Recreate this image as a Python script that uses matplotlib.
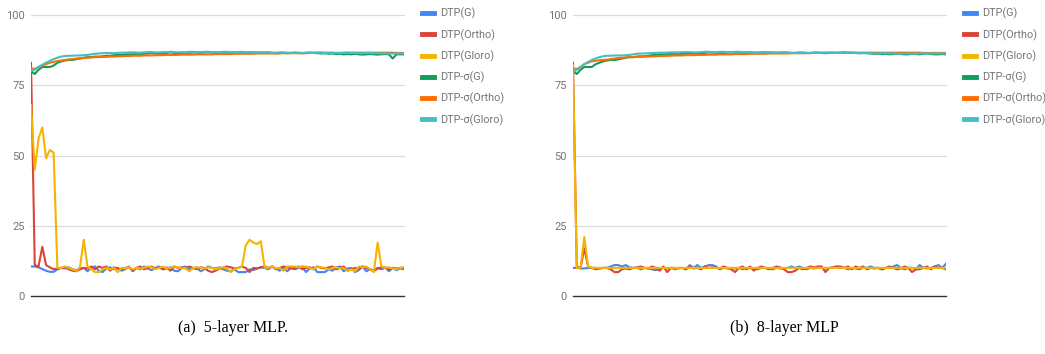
import matplotlib.pyplot as plt

# --- datos (100 epocas) ---
labels = ["DTP(G)", "DTP(Ortho)", "DTP(Gloro)", "DTP-σ(G)", "DTP-σ(Ortho)", "DTP-σ(Gloro)"]
colores = ["#4285F4", "#DB4437", "#F4B400", "#0F9D58", "#FF6D00", "#46BDC6"]

# (a) 5-layer MLP
g5 = [10.5, 10.5, 10.2, 9.6, 9.0, 8.6, 8.6, 9.5, 10.0, 9.8,
      10.2, 9.5, 9.2, 9.8, 10.0, 8.8, 10.2, 10.5, 9.0, 8.5,
      9.8, 10.2, 9.5, 10.0, 9.0, 9.5, 10.5, 8.8, 10.0, 9.5,
      10.5, 9.8, 9.2, 10.0, 10.5, 9.5, 9.8, 10.2, 9.0, 8.8,
      10.0, 10.5, 9.5, 9.8, 10.2, 8.8, 9.5, 10.5, 10.0, 9.8,
      10.2, 9.5, 9.0, 8.8, 9.5, 8.5, 8.5, 8.5, 9.5, 9.2,
      9.8, 10.2, 10.0, 9.5, 10.5, 9.8, 9.0, 10.2, 8.8, 10.0,
      9.5, 10.0, 10.5, 8.5, 9.8, 10.2, 8.5, 8.5, 8.5, 9.5,
      9.0, 10.2, 10.5, 8.8, 9.8, 10.0, 8.5, 9.2, 10.5, 8.8,
      9.5, 8.8, 10.0, 9.5, 10.2, 8.8, 10.0, 9.2, 9.8, 9.5]
ortho5 = [83.0, 11.0, 10.5, 17.5, 11.0, 10.2, 9.5, 9.8, 10.0, 10.2,
          9.5, 9.0, 8.8, 9.5, 10.0, 9.8, 10.5, 9.5, 10.5, 10.0,
          10.5, 9.0, 10.2, 9.8, 9.5, 10.0, 10.2, 9.0, 10.0, 10.5,
          9.5, 10.0, 10.5, 9.8, 10.2, 9.5, 10.2, 9.0, 10.5, 10.0,
          10.2, 9.8, 10.5, 10.0, 9.5, 10.2, 10.0, 9.0, 8.5, 9.0,
          9.8, 10.0, 10.5, 10.2, 9.8, 10.0, 10.5, 10.0, 8.5, 10.0,
          9.8, 10.2, 10.5, 10.0, 10.5, 9.5, 10.0, 10.5, 10.2, 9.8,
          10.0, 10.5, 9.5, 10.0, 10.2, 9.5, 10.5, 10.0, 9.8, 10.2,
          10.5, 9.5, 10.0, 10.5, 9.0, 9.5, 10.0, 9.8, 10.5, 10.0,
          9.5, 9.0, 9.8, 10.2, 10.0, 9.5, 10.0, 9.8, 10.0, 10.0]
gloro5 = [68.0, 45.0, 56.0, 60.0, 49.0, 52.0, 51.0, 10.0, 10.0, 10.5,
          10.0, 9.5, 9.0, 10.2, 20.0, 10.5, 9.5, 8.5, 8.5, 9.5,
          10.0, 9.5, 10.0, 8.5, 10.0, 9.8, 10.2, 9.5, 10.0, 9.8,
          10.0, 10.5, 10.2, 9.5, 10.0, 10.5, 9.8, 10.0, 10.5, 10.2,
          9.8, 10.0, 8.8, 10.0, 10.2, 10.0, 9.8, 10.2, 10.0, 9.5,
          10.0, 10.2, 9.8, 8.5, 9.5, 10.0, 10.5, 18.0, 20.0, 19.0,
          18.5, 19.5, 10.2, 10.0, 10.5, 9.8, 10.0, 9.0, 10.5, 10.5,
          10.5, 10.2, 10.5, 10.5, 10.0, 9.5, 10.5, 10.2, 10.0, 9.5,
          10.0, 10.2, 9.8, 10.0, 9.0, 9.5, 8.8, 10.5, 10.2, 10.5,
          9.5, 8.5, 19.0, 10.5, 10.0, 10.2, 9.8, 9.5, 10.0, 10.2]
sg5 = [80.0, 79.0, 80.5, 81.5, 81.5, 81.5, 82.0, 83.0, 83.5, 83.8,
       84.0, 84.0, 84.3, 84.5, 84.8, 85.0, 85.0, 85.2, 85.2, 85.3,
       85.5, 85.5, 85.7, 85.8, 85.8, 86.0, 86.0, 86.0, 86.2, 86.0,
       86.2, 86.3, 86.5, 86.3, 86.2, 86.3, 86.5, 86.7, 86.5, 86.3,
       86.5, 86.6, 86.5, 86.7, 86.6, 86.5, 86.7, 86.8, 86.6, 86.7,
       86.5, 86.6, 86.8, 86.7, 86.6, 86.8, 86.7, 86.6, 86.5, 86.7,
       86.6, 86.5, 86.6, 86.7, 86.5, 86.4, 86.5, 86.6, 86.4, 86.5,
       86.6, 86.5, 86.4, 86.5, 86.6, 86.5, 86.4, 86.3, 86.4, 86.2,
       86.3, 86.1, 86.2, 86.0, 86.1, 86.0, 86.2, 86.0, 85.9, 86.0,
       86.1, 86.0, 85.9, 86.0, 86.1, 86.0, 84.5, 86.0, 86.0, 86.0]
so5 = [81.0, 80.8, 81.5, 82.0, 82.5, 83.0, 83.3, 83.6, 83.8, 84.0,
       84.2, 84.3, 84.5, 84.6, 84.7, 84.8, 84.9, 85.0, 85.0, 85.1,
       85.1, 85.2, 85.2, 85.3, 85.3, 85.4, 85.4, 85.5, 85.5, 85.5,
       85.6, 85.6, 85.6, 85.7, 85.7, 85.7, 85.8, 85.8, 85.8, 85.8,
       85.9, 85.9, 85.9, 85.9, 86.0, 86.0, 86.0, 86.0, 86.0, 86.1,
       86.1, 86.1, 86.1, 86.1, 86.2, 86.2, 86.2, 86.2, 86.2, 86.2,
       86.3, 86.3, 86.3, 86.3, 86.3, 86.3, 86.3, 86.4, 86.4, 86.4,
       86.4, 86.4, 86.4, 86.4, 86.5, 86.5, 86.5, 86.5, 86.5, 86.5,
       86.5, 86.5, 86.5, 86.5, 86.6, 86.6, 86.6, 86.6, 86.6, 86.6,
       86.6, 86.6, 86.6, 86.6, 86.6, 86.6, 86.6, 86.5, 86.5, 86.5]
sgl5 = [80.0, 80.5, 81.5, 82.3, 83.0, 83.7, 84.3, 84.8, 85.2, 85.4,
        85.5, 85.5, 85.6, 85.6, 85.7, 85.8, 86.0, 86.2, 86.3, 86.4,
        86.5, 86.5, 86.4, 86.5, 86.6, 86.6, 86.7, 86.7, 86.6, 86.6,
        86.7, 86.8, 86.8, 86.7, 86.7, 86.8, 86.8, 86.9, 86.8, 86.7,
        86.8, 86.8, 86.9, 86.9, 86.8, 86.8, 86.9, 86.9, 86.8, 86.8,
        86.8, 86.9, 86.9, 86.8, 86.8, 86.8, 86.9, 86.8, 86.8, 86.7,
        86.7, 86.8, 86.7, 86.7, 86.6, 86.6, 86.7, 86.6, 86.6, 86.5,
        86.6, 86.6, 86.5, 86.6, 86.6, 86.6, 86.7, 86.7, 86.6, 86.6,
        86.6, 86.5, 86.5, 86.6, 86.6, 86.5, 86.5, 86.4, 86.4, 86.5,
        86.5, 86.4, 86.4, 86.3, 86.3, 86.3, 86.3, 86.3, 86.3, 86.3]

# (b) 8-layer MLP
g8 = [10.0, 10.0, 9.8, 9.8, 10.0, 10.0, 10.0, 9.8, 10.0, 10.0,
      10.5, 11.0, 11.0, 10.5, 11.0, 10.2, 10.0, 10.0, 9.5, 10.0,
      9.8, 9.5, 9.2, 9.8, 10.0, 9.8, 10.0, 9.5, 10.0, 10.0,
      9.5, 11.0, 10.0, 11.0, 10.0, 10.5, 11.0, 11.0, 10.5, 9.5,
      10.0, 9.8, 10.0, 9.8, 10.0, 9.5, 10.0, 9.8, 10.0, 9.5,
      10.0, 10.0, 9.8, 9.5, 10.0, 9.8, 9.8, 10.0, 10.5, 10.0,
      10.5, 10.0, 9.5, 10.0, 9.8, 10.0, 10.0, 9.8, 10.0, 10.0,
      10.5, 10.0, 10.0, 9.5, 10.0, 9.8, 9.5, 10.0, 10.0, 10.5,
      10.0, 10.0, 9.5, 10.0, 10.0, 10.5, 11.0, 10.0, 9.5, 10.0,
      10.0, 9.5, 11.0, 10.0, 9.8, 10.0, 10.5, 11.0, 10.0, 11.5]
ortho8 = [83.0, 10.5, 10.0, 17.0, 10.5, 10.0, 9.5, 9.8, 10.0, 10.0,
          9.5, 8.5, 8.5, 9.5, 9.8, 9.5, 10.0, 10.2, 10.5, 10.0,
          9.8, 10.5, 10.0, 9.0, 10.5, 8.5, 10.0, 10.0, 9.8, 10.0,
          9.5, 10.5, 9.8, 10.0, 9.5, 10.5, 10.0, 10.2, 10.0, 9.8,
          10.5, 10.0, 9.5, 8.5, 10.0, 10.5, 9.5, 10.5, 9.0, 10.0,
          10.5, 10.0, 9.5, 10.0, 10.5, 10.2, 9.5, 8.5, 8.5, 9.0,
          10.0, 9.5, 10.0, 10.5, 10.2, 10.5, 10.5, 8.5, 10.0, 10.2,
          10.5, 10.5, 10.0, 10.5, 9.5, 10.5, 10.0, 10.5, 9.5, 10.0,
          9.8, 10.0, 9.5, 10.0, 10.5, 10.0, 9.5, 9.8, 10.5, 10.0,
          8.5, 9.5, 9.5, 10.0, 10.5, 9.5, 10.5, 10.0, 10.0, 9.5]
gloro8 = [82.0, 10.0, 10.0, 21.0, 10.5, 10.0, 10.0, 10.0, 10.0, 10.0,
          10.0, 10.0, 10.0, 10.0, 10.0, 10.0, 10.0, 10.0, 10.0, 10.0,
          10.0, 10.0, 10.0, 10.0, 10.0, 10.0, 10.0, 10.0, 10.0, 10.0,
          10.0, 10.0, 10.0, 10.0, 10.0, 10.0, 10.0, 10.0, 10.0, 10.0,
          10.0, 10.0, 10.0, 10.0, 10.0, 10.0, 10.0, 10.0, 10.0, 10.0,
          10.0, 10.0, 10.0, 10.0, 10.0, 10.0, 10.0, 10.0, 10.0, 10.0,
          10.0, 10.0, 10.0, 10.0, 10.0, 10.0, 10.0, 10.0, 10.0, 10.0,
          10.0, 10.0, 10.0, 10.0, 10.0, 10.0, 10.0, 10.0, 10.0, 10.0,
          10.0, 10.0, 10.0, 10.0, 10.0, 10.0, 10.0, 10.0, 10.0, 10.0,
          10.0, 10.0, 10.0, 10.0, 10.0, 10.0, 10.0, 10.0, 10.0, 10.0]
sg8 = [80.0, 79.0, 80.5, 81.5, 81.5, 81.5, 82.5, 83.0, 83.5, 83.8,
       84.0, 84.0, 84.2, 84.5, 84.8, 85.0, 85.0, 85.2, 85.3, 85.3,
       85.5, 85.7, 85.8, 86.0, 86.0, 86.0, 86.2, 86.2, 86.0, 86.2,
       86.3, 86.4, 86.3, 86.2, 86.4, 86.5, 86.7, 86.6, 86.6, 86.5,
       86.5, 86.6, 86.7, 86.6, 86.5, 86.5, 86.6, 86.7, 86.6, 86.5,
       86.6, 86.7, 86.7, 86.6, 86.5, 86.6, 86.7, 86.6, 86.5, 86.5,
       86.6, 86.6, 86.5, 86.5, 86.6, 86.6, 86.5, 86.4, 86.5, 86.6,
       86.5, 86.6, 86.7, 86.6, 86.5, 86.5, 86.4, 86.5, 86.4, 86.3,
       86.2, 86.2, 86.1, 86.2, 86.0, 86.1, 86.2, 86.1, 86.0, 86.0,
       86.2, 86.1, 86.0, 86.2, 86.3, 86.1, 86.0, 86.0, 86.1, 86.0]
so8 = [81.0, 80.8, 81.5, 82.5, 83.0, 83.5, 83.7, 83.9, 84.0, 84.1,
       84.3, 84.5, 84.7, 84.8, 84.9, 85.0, 85.0, 85.1, 85.1, 85.2,
       85.2, 85.3, 85.3, 85.4, 85.4, 85.5, 85.5, 85.6, 85.6, 85.6,
       85.7, 85.7, 85.7, 85.8, 85.8, 85.8, 85.9, 85.9, 85.9, 86.0,
       86.0, 86.0, 86.0, 86.1, 86.1, 86.1, 86.1, 86.2, 86.2, 86.2,
       86.2, 86.2, 86.3, 86.3, 86.3, 86.3, 86.3, 86.3, 86.4, 86.4,
       86.4, 86.4, 86.4, 86.4, 86.5, 86.5, 86.5, 86.5, 86.5, 86.5,
       86.5, 86.5, 86.6, 86.6, 86.6, 86.6, 86.6, 86.6, 86.6, 86.6,
       86.6, 86.6, 86.6, 86.6, 86.6, 86.6, 86.6, 86.6, 86.6, 86.6,
       86.6, 86.6, 86.6, 86.5, 86.5, 86.5, 86.5, 86.5, 86.5, 86.5]
sgl8 = [79.5, 80.5, 81.5, 82.5, 83.3, 84.0, 84.5, 85.0, 85.3, 85.5,
        85.5, 85.6, 85.6, 85.6, 85.7, 85.8, 86.0, 86.2, 86.3, 86.3,
        86.4, 86.5, 86.5, 86.6, 86.6, 86.6, 86.7, 86.7, 86.7, 86.8,
        86.8, 86.8, 86.7, 86.7, 86.8, 86.9, 86.9, 86.8, 86.8, 86.9,
        86.9, 86.8, 86.8, 86.9, 86.9, 86.8, 86.8, 86.8, 86.7, 86.7,
        86.8, 86.8, 86.7, 86.7, 86.7, 86.6, 86.6, 86.6, 86.5, 86.5,
        86.6, 86.6, 86.5, 86.5, 86.6, 86.6, 86.6, 86.7, 86.7, 86.6,
        86.6, 86.6, 86.5, 86.5, 86.6, 86.5, 86.4, 86.4, 86.5, 86.4,
        86.3, 86.3, 86.4, 86.4, 86.3, 86.3, 86.2, 86.2, 86.3, 86.3,
        86.2, 86.2, 86.3, 86.3, 86.4, 86.3, 86.3, 86.3, 86.3, 86.3]

series5 = [g5, ortho5, gloro5, sg5, so5, sgl5]
series8 = [g8, ortho8, gloro8, sg8, so8, sgl8]
yticks = [0, 25, 50, 75, 100]
captions = ["(a)  5-layer MLP.", "(b)  8-layer MLP"]

fuente = ["Roboto", "DejaVu Sans"]

fig = plt.figure(figsize=(10.45, 3.54), dpi=100)
ax_a = fig.add_axes([31 / 1045, 58 / 354, 373 / 1045, 281 / 354])
ax_b = fig.add_axes([573 / 1045, 58 / 354, 373 / 1045, 281 / 354])

for ax, series in [(ax_a, series5), (ax_b, series8)]:
    for t in yticks[1:]:
        ax.axhline(t, color="#dcdcdc", lw=0.9, zorder=1, clip_on=False)
    ax.axhline(0, color="#333333", lw=1.0, zorder=1, clip_on=False)
    for vals, col, lab in zip(series, colores, labels):
        ax.plot(range(len(vals)), vals, color=col, lw=1.5, label=lab, zorder=3)
    ax.set_xlim(0, len(series[0]) - 1)
    ax.set_ylim(0, 100)
    ax.set_xticks([])
    ax.set_yticks(yticks)
    ax.tick_params(axis="y", length=0, pad=4.5, labelsize=8, labelcolor="#757575")
    for lbl in ax.get_yticklabels():
        lbl.set_family(fuente)
    for s in ax.spines.values():
        s.set_visible(False)
    leg = ax.legend(loc="upper left", bbox_to_anchor=(1.048, 1.025), frameon=False,
                    borderpad=0, borderaxespad=0, handlelength=1.1, handletextpad=0.6,
                    labelspacing=0.9, prop={"family": fuente, "size": 7.8})
    for h in leg.get_lines():
        h.set_linewidth(3.5)
    for txt in leg.get_texts():
        txt.set_color("#757575")

fig.text(0.223, 0.073, captions[0], ha="center", va="center", family="Liberation Serif", fontsize=11.5)
fig.text(0.751, 0.073, captions[1], ha="center", va="center", family="Liberation Serif", fontsize=11.5)

fig.savefig("out.png", dpi=100)
